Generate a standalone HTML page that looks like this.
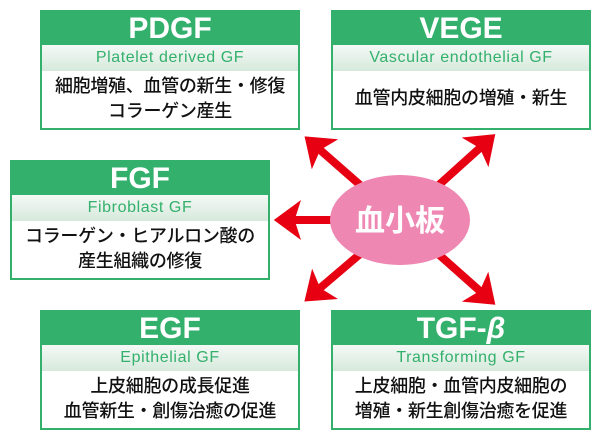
<!DOCTYPE html>
<html><head><meta charset="utf-8"><style>
body{margin:0;width:600px;height:440px;background:#fff;position:relative;overflow:hidden;font-family:"Liberation Sans","Noto Sans CJK JP",sans-serif}
.b{position:absolute;width:256px;height:116px;border:2px solid #33b06c;background:#fff}
.h{height:33px;background:#33b06c;color:#fff;font-weight:bold;font-size:30px;text-align:center;line-height:34px}
.s{height:26px;background:linear-gradient(#f4f9f5,#d6e9dc);color:#33b06c;font-size:16px;letter-spacing:0.6px;text-align:center;line-height:26px}
.t{font-size:18px;text-align:center;line-height:25px;color:#111;padding-top:3px;font-weight:500;letter-spacing:-0.3px}
svg{position:absolute;left:0;top:0}
</style></head><body>
<div class="b" style="left:40px;top:10px"><div class="h">PDGF</div><div class="s">Platelet derived GF</div><div class="t">細胞増殖、血管の新生・修復<br>コラーゲン産生</div></div>
<div class="b" style="left:331px;top:10px"><div class="h">VEGE</div><div class="s">Vascular endothelial GF</div><div class="t" style="padding-top:15px">血管内皮細胞の増殖・新生</div></div>
<div class="b" style="left:10px;top:160px"><div class="h">FGF</div><div class="s">Fibroblast GF</div><div class="t">コラーゲン・ヒアルロン酸の<br>産生組織の修復</div></div>
<div class="b" style="left:40px;top:310px"><div class="h">EGF</div><div class="s">Epithelial GF</div><div class="t">上皮細胞の成長促進<br>血管新生・創傷治癒の促進</div></div>
<div class="b" style="left:331px;top:310px"><div class="h">TGF-<i>β</i></div><div class="s">Transforming GF</div><div class="t">上皮細胞・血管内皮細胞の<br>増殖・新生創傷治癒を促進</div></div>
<svg width="600" height="440">
<defs><marker id="a" markerWidth="5" markerHeight="5" refX="1" refY="2.5" orient="auto" markerUnits="strokeWidth"><path d="M0,0L3.4,2.5L0,5L0.8,2.5Z" fill="#e60012"/></marker></defs>
<g stroke="#e60012" stroke-width="8" marker-end="url(#a)">
<line x1="400" y1="220" x2="319" y2="149"/>
<line x1="400" y1="220" x2="481" y2="147"/>
<line x1="400" y1="220" x2="293" y2="220"/>
<line x1="400" y1="220" x2="319" y2="289"/>
<line x1="400" y1="220" x2="481" y2="292"/>
</g>
<ellipse cx="400" cy="220" rx="70" ry="45" fill="#ee88b3"/>
<text x="400" y="231" text-anchor="middle" fill="#fff" font-size="30" font-weight="bold" font-family="Noto Sans CJK JP,sans-serif">血小板</text>
</svg>
</body></html>
